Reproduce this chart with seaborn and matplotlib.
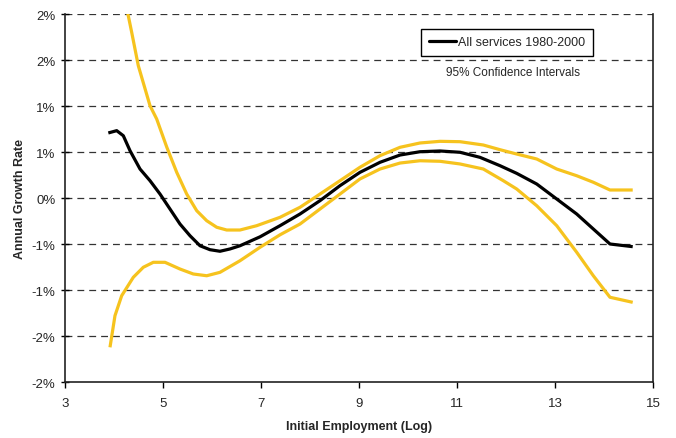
import numpy as np
import pandas as pd
import matplotlib
matplotlib.use("Agg")
import matplotlib.pyplot as plt
from matplotlib.lines import Line2D
import seaborn as sns

# ---- data ----
x_main = [3.884, 4.055, 4.190, 4.327, 4.531, 4.735, 4.939, 5.143, 5.347, 5.551, 5.755,
          5.959, 6.163, 6.367, 6.571, 6.980, 7.388, 7.796, 8.204, 8.612, 9.020, 9.429,
          9.837, 10.245, 10.653, 11.061, 11.469, 11.878, 12.218, 12.627, 13.035,
          13.443, 13.782, 14.122, 14.586]
y_main = [0.00707, 0.00732, 0.00677, 0.00514, 0.00315, 0.00188, 0.00043, -0.00120,
          -0.00283, -0.00410, -0.00519, -0.00562, -0.00579, -0.00554, -0.00519,
          -0.00422, -0.00301, -0.00174, -0.00029, 0.00134, 0.00279, 0.00388, 0.00467,
          0.00503, 0.00511, 0.00497, 0.00442, 0.00351, 0.00268, 0.00152, -0.00011,
          -0.00174, -0.00337, -0.00500, -0.00529]

x_upper = [3.900, 4.280, 4.361, 4.496, 4.735, 4.871, 5.076, 5.280, 5.484, 5.688, 5.892,
           6.096, 6.300, 6.571, 6.912, 7.388, 7.796, 8.204, 8.612, 9.020, 9.429, 9.837,
           10.245, 10.653, 11.061, 11.537, 11.878, 12.218, 12.627, 13.035, 13.443,
           13.782, 14.122, 14.586]
y_upper = [0.03000, 0.02011, 0.01801, 0.01438, 0.01003, 0.00859, 0.00554, 0.00279,
           0.00043, -0.00138, -0.00247, -0.00318, -0.00348, -0.00348, -0.00301,
           -0.00210, -0.00101, 0.00043, 0.00188, 0.00334, 0.00460, 0.00551, 0.00598,
           0.00616, 0.00612, 0.00576, 0.00525, 0.00478, 0.00424, 0.00315, 0.00242,
           0.00171, 0.00087, 0.00087]

x_lower = [3.918, 4.020, 4.157, 4.394, 4.598, 4.802, 5.041, 5.347, 5.618, 5.892, 6.163,
           6.571, 6.980, 7.388, 7.796, 8.204, 8.612, 9.020, 9.429, 9.837, 10.245,
           10.653, 11.061, 11.537, 11.945, 12.218, 12.627, 13.035, 13.443, 13.782,
           14.122, 14.586]
y_lower = [-0.01623, -0.01279, -0.01062, -0.00862, -0.00753, -0.00699, -0.00699,
           -0.00772, -0.00826, -0.00845, -0.00808, -0.00682, -0.00536, -0.00400,
           -0.00283, -0.00120, 0.00043, 0.00207, 0.00315, 0.00380, 0.00405, 0.00399,
           0.00370, 0.00315, 0.00188, 0.00098, -0.00084, -0.00301, -0.00590, -0.00845,
           -0.01079, -0.01134]

y_ticks = [-0.02, -0.015, -0.01, -0.005, 0.0, 0.005, 0.01, 0.015, 0.02]
y_tick_labels = ["-2%", "-2%", "-1%", "-1%", "0%", "1%", "1%", "2%", "2%"]
x_ticks = [3, 5, 7, 9, 11, 13, 15]

main_label = "All services 1980-2000"
ci_label = "95% Confidence Intervals"
x_label = "Initial Employment (Log)"
y_label = "Annual Growth Rate"

# ---- plotting ----
sns.set_style("white")
plt.rcParams["font.family"] = ["Liberation Sans", "DejaVu Sans"]

fig = plt.figure(figsize=(6.76, 4.39), dpi=100)
ax = fig.add_axes([65 / 676, 1 - 383 / 439, 588 / 676, 368 / 439])

yellow = "#F6C31E"
df_up = pd.DataFrame({"x": x_upper, "y": y_upper})
df_lo = pd.DataFrame({"x": x_lower, "y": y_lower})
df_main = pd.DataFrame({"x": x_main, "y": y_main})

for y in y_ticks[1:]:
    ax.axhline(y, color="#333333", lw=0.9, ls=(0, (5.5, 4)), zorder=0.5)

line_kw = dict(sort=False, estimator=None, solid_joinstyle="round",
               solid_capstyle="butt")
sns.lineplot(data=df_up, x="x", y="y", ax=ax, color=yellow, lw=2.3, **line_kw)
sns.lineplot(data=df_lo, x="x", y="y", ax=ax, color=yellow, lw=2.3, **line_kw)
sns.lineplot(data=df_main, x="x", y="y", ax=ax, color="black", lw=2.3, **line_kw)

ax.set_xlim(3, 15)
ax.set_ylim(-0.02, 0.02)
ax.set_xticks(x_ticks)
ax.set_xticklabels([str(t) for t in x_ticks], fontsize=9.5)
ax.set_yticks(y_ticks)
ax.set_yticklabels(y_tick_labels, fontsize=9.5)
ax.tick_params(axis="y", direction="inout", length=6, width=1, color="black",
               pad=4, left=True)
ax.tick_params(axis="x", direction="out", length=4, width=1, color="black",
               pad=7, bottom=True)

for s in ["left", "bottom", "right"]:
    ax.spines[s].set_visible(True)
    ax.spines[s].set_color("#222222")
    ax.spines[s].set_linewidth(1.2)
ax.spines["top"].set_visible(False)

ax.set_xlabel(x_label, fontsize=9, fontweight="bold", labelpad=8)
ax.set_ylabel(y_label, fontsize=9, fontweight="bold", labelpad=4)

handle = Line2D([], [], color="black", lw=2.3)
leg = ax.legend([handle], [main_label], loc="upper left",
                bbox_to_anchor=((421 - 65) / 588, (383 - 30) / 368),
                fontsize=9, frameon=True, fancybox=False, handlelength=2.2,
                handletextpad=0.2, borderaxespad=0, borderpad=0.6)
leg.get_frame().set_edgecolor("black")
leg.get_frame().set_linewidth(1.0)
leg.get_frame().set_facecolor("white")
leg.get_frame().set_alpha(1)

ax.text((513 - 65) / 588, (383 - 73) / 368, ci_label, transform=ax.transAxes,
        ha="center", va="center", fontsize=8.5)

fig.savefig("out.png", dpi=100)
